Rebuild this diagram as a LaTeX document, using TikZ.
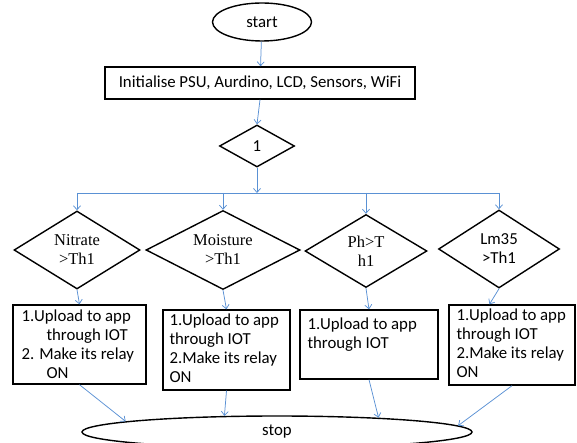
\documentclass[tikz,border=0pt]{standalone}
\usepackage{fontspec}
\setmainfont{Carlito}
\newfontfamily\timesfont{Liberation Serif}
\usetikzlibrary{shapes.geometric,arrows.meta,positioning}

\definecolor{flowblue}{RGB}{90,145,212}

\tikzset{
  link/.style={draw=flowblue, line width=0.75pt},
  flow/.style={link, -{Straight Barb[length=4pt,width=7pt]}},
  term/.style={ellipse, draw, line width=1.4pt, inner sep=0pt},
  procbox/.style={rectangle, draw, line width=1.4pt, inner sep=0pt},
  cond/.style={diamond, draw, line width=1.4pt, inner sep=0pt, aspect=2,
    align=center, font=\timesfont\fontsize{16.5}{19}\selectfont},
  boxtext/.style={align=left, inner sep=0pt, font=\fontsize{16.8}{19}\selectfont},
  node distance=5pt
}

\begin{document}
\begin{tikzpicture}[x=1pt,y=-1pt, font=\fontsize{16.8}{19}\selectfont]
  \useasboundingbox (0,0) rectangle (577,443);

  % start, init and first decision
  \node[term, minimum width=99pt, minimum height=38pt] (start) at (262,22) {start};
  \node[procbox, minimum width=310pt, minimum height=32pt] (init) at (260,83)
    {Initialise PSU, Aurdino, LCD, Sensors, WiFi};
  \node[cond, minimum width=75pt, minimum height=42pt, font=\fontsize{16.8}{19}\selectfont] (dec) at (257,146) {1};
  \draw[flow] (start) -- (init);
  \draw[flow] (init.south) -- (dec.north);

  % four sensor checks
  \node[cond, minimum width=126pt, minimum height=78pt] (nitrate)  at (77,250)  {Nitrate\\>Th1};
  \node[cond, minimum width=154pt, minimum height=79pt] (moisture) at (223,250) {Moisture\\>Th1};
  \node[cond, minimum width=122pt, minimum height=73pt] (ph)       at (366,251) {Ph>T\\h1};
  \node[cond, minimum width=121pt, minimum height=78pt,
        font=\fontsize{16.8}{19}\selectfont] (lm) at (499,249) {Lm35\\>Th1};

  % bus from the decision to the checks
  \coordinate (bus) at (0,193);
  \draw[flow] (dec.south) -- (dec.south |- bus);
  \draw[link] (nitrate.north |- bus) -- (lm.north |- bus);
  \foreach \d in {nitrate,moisture,ph,lm} {
    \draw[flow] (\d.north |- bus) -- (\d.north);
  }

  % action boxes
  \node[procbox, minimum width=133pt, minimum height=79pt] (up1) at (79.5,344.5) {};
  \node[procbox, minimum width=127pt, minimum height=80pt] (up2) at (226.5,350) {};
  \node[procbox, minimum width=138pt, minimum height=69pt] (up3) at (369,344.5) {};
  \node[procbox, minimum width=126pt, minimum height=80pt] (up4) at (512,345) {};

  \node[boxtext, below right=5pt and 9pt of up1.north west] (txt1)
    {1.Upload to app\\\hspace*{25pt}through IOT\\2. Make its relay\\\hspace*{25pt}ON};
  \node[boxtext, below right=4pt and 7pt of up2.north west] (txt2)
    {1.Upload to app\\through IOT\\2.Make its relay\\ON};
  \node[boxtext, below right=8pt and 8pt of up3.north west] (txt3)
    {1.Upload to app\\through IOT};
  \node[boxtext, below right=4pt and 8pt of up4.north west] (txt4)
    {1.Upload to app\\through IOT\\2.Make its relay\\ON};

  \draw[flow] (nitrate.south)  -- (up1.north);
  \draw[flow] (moisture.south) -- (up2.north);
  \draw[flow] (ph.south)       -- (up3.north);
  \draw[flow] (lm.south)       -- (up4.119);

  % stop
  \node[term, minimum width=390pt, minimum height=32pt] (stop) at (277,432) {stop};
  \draw[flow] (up1.south) -- (stop.176.7);
  \draw[flow] (up2.south) -- (stop.163.2);
  \draw[flow] (up3.south) -- (stop.8.7);
  \draw[flow] (up4.south) -- (stop.2.8);
\end{tikzpicture}
\end{document}
